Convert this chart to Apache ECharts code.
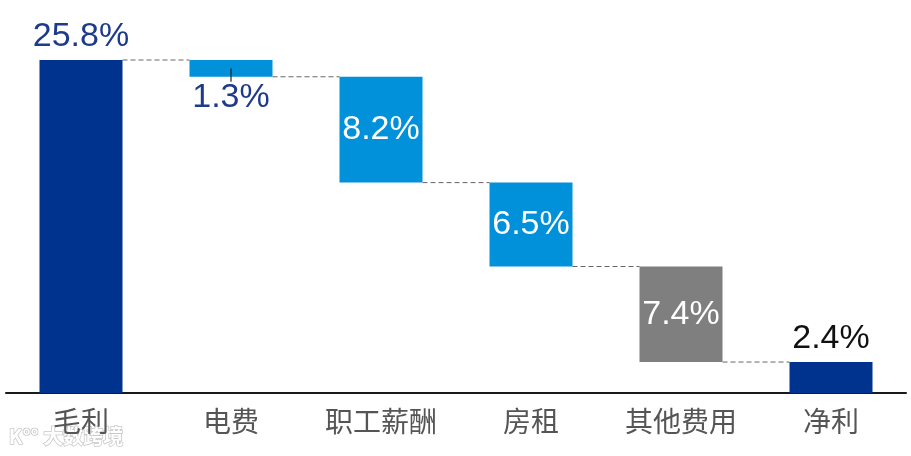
<!DOCTYPE html>
<html>
<head>
<meta charset="utf-8">
<script src="https://cdn.jsdelivr.net/npm/echarts@6/dist/echarts.min.js"></script>
<style>html,body{margin:0;padding:0;background:#fff}#c{width:911px;height:456px}</style>
</head>
<body>
<div id="c"></div>
<script>
// ---- data ----
const categories = ['毛利', '电费', '职工薪酬', '房租', '其他费用', '净利'];
const values = [25.8, 1.3, 8.2, 6.5, 7.4, 2.4];
const kinds = ['total', 'decrease', 'decrease', 'decrease', 'decrease', 'total'];

// ---- style ----
const barColors = ['#00338D', '#0091DA', '#0091DA', '#0091DA', '#7F7F7F', '#00338D'];
const labelPos = ['top', 'bottom', 'inside', 'inside', 'inside', 'top'];
const labelColors = ['#1E3A8A', '#1E3A8A', '#ffffff', '#ffffff', '#ffffff', '#111111'];
const BAR_W = 83;

// waterfall bases
const bases = [];
const levels = [];
let running = 0;
for (let i = 0; i < values.length; i++) {
  if (kinds[i] === 'total') { bases.push(0); running = values[i]; }
  else { running = running - values[i]; bases.push(running); }
  levels.push(running);
}

const chart = echarts.init(document.getElementById('c'));
chart.setOption({
  animation: false,
  grid: { left: 6, right: 5, top: 60, bottom: 63 },
  xAxis: {
    type: 'category', data: categories,
    axisLine: { lineStyle: { color: '#1a1a1a', width: 2 } },
    axisTick: { show: false },
    axisLabel: { color: '#555', fontSize: 28, margin: 14, fontFamily: 'Noto Sans CJK SC' }
  },
  yAxis: { type: 'value', min: 0, max: values[0], show: false, splitLine: { show: false } },
  series: [
    {
      type: 'bar', stack: 'w', barWidth: BAR_W, silent: true,
      itemStyle: { color: 'transparent' },
      data: bases
    },
    {
      type: 'bar', stack: 'w', barWidth: BAR_W,
      data: values.map((v, i) => ({
        value: v,
        itemStyle: { color: barColors[i] },
        label: {
          show: true, position: labelPos[i], distance: labelPos[i] === 'bottom' ? 4 : 6,
          color: labelColors[i], fontSize: 34, fontFamily: 'Liberation Sans',
          formatter: () => v.toFixed(1) + '%'
        }
      }))
    },
    {
      type: 'custom', silent: true, z: 1,
      data: levels.slice(0, levels.length - 1).map((l, i) => [i, l]),
      renderItem: function (params, api) {
        const i = api.value(0), l = api.value(1);
        const a = api.coord([i, l]);
        const b = api.coord([i + 1, l]);
        return {
          type: 'line',
          shape: { x1: a[0] + BAR_W / 2, y1: a[1], x2: b[0] - BAR_W / 2, y2: b[1] },
          style: { stroke: '#666', lineWidth: 1, lineDash: [5, 3] }
        };
      }
    },
    {
      // label leader tick for labels placed below a bar
      type: 'custom', silent: true, z: 5,
      data: values.map((v, i) => [i, bases[i], v]).filter((d, i) => labelPos[i] === 'bottom'),
      renderItem: function (params, api) {
        const i = api.value(0), b = api.value(1), v = api.value(2);
        const mid = api.coord([i, b + v / 2]);
        const bot = api.coord([i, b]);
        return {
          type: 'line',
          shape: { x1: mid[0], y1: mid[1], x2: bot[0], y2: bot[1] + 5 },
          style: { stroke: '#222', lineWidth: 1.2 }
        };
      }
    }
  ],
  graphic: [
    {
      type: 'text', left: 8, top: 426,
      style: { text: 'K°° 大数跨境', fontSize: 20, fontWeight: 'bold', fill: '#ffffff', stroke: '#c8c8c8', lineWidth: 1.5, fontFamily: 'Noto Sans CJK SC' }
    }
  ]
});
</script>
</body>
</html>
